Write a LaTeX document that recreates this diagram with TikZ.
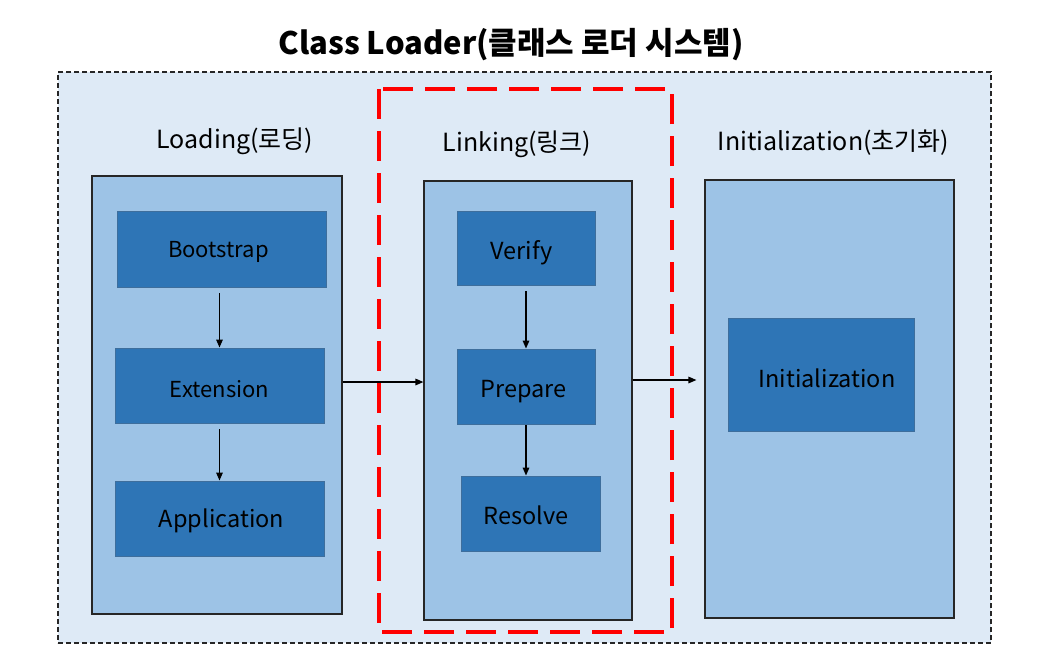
\documentclass[tikz,border=0pt]{standalone}
\usepackage{fontspec}
\setmainfont{Noto Sans CJK KR}
\usetikzlibrary{arrows.meta,calc}
\definecolor{bglight}{HTML}{DEEAF6}
\definecolor{midblue}{HTML}{9DC3E6}
\definecolor{darkblue}{HTML}{2E75B6}
\definecolor{darkborder}{HTML}{3E6E9C}
\definecolor{redline}{HTML}{FF0000}
\begin{document}
\begin{tikzpicture}[x=1pt,y=-1pt,
  outerbox/.style={draw=black!85,line width=1.5pt,dash pattern=on 5pt off 3pt,fill=bglight},
  redbox/.style={draw=redline,line width=3.3pt,dash pattern=on 30pt off 12pt},
  stagebox/.style={draw=black!85,line width=1.1pt,fill=midblue,inner sep=0pt},
  stepbox/.style={draw=darkborder,line width=0.9pt,fill=darkblue,inner sep=0pt},
  smalltxt/.style={font=\fontsize{22}{26}\selectfont},
  bigtxt/.style={font=\fontsize{23.5}{28}\selectfont},
  lbl/.style={font=\fontsize{25}{30}\selectfont},
  arr/.style={line width=1.4pt,-{Triangle[length=8pt,width=6.5pt]}}]
\useasboundingbox (0,0) rectangle (1053,665);
% outer
\node[outerbox,inner sep=0pt,minimum width=933pt,minimum height=571pt] (outer) at (524.5,357.5) {};
\node[font=\fontsize{31}{36}\selectfont\bfseries] (title) at (511,45) {Class Loader(클래스 로더 시스템)};
% red dashed
\draw[redbox] (379,89) rectangle (672,632);
\coordinate (redtl) at (379,89);
% stage labels
\node[lbl] (lload) at (235,141) {Loading(로딩)};
\node[lbl] (llink) at (517,144) {Linking(링크)};
\node[lbl] (linit) at (833.5,143) {Initialization(초기화)};
% stage boxes
\node[stagebox,minimum width=250pt,minimum height=438pt] (Loading) at (217,395) {};
\node[stagebox,minimum width=208pt,minimum height=439pt] (Linking) at (528,400.5) {};
\node[stagebox,minimum width=249pt,minimum height=438pt] (Init) at (829.5,399) {};
% steps
\node[stepbox,minimum width=209pt,minimum height=76pt,
  label={[smalltxt,xshift=-3pt,yshift=-3pt]center:Bootstrap}] (Boot) at (221.5,249) {};
\node[stepbox,minimum width=209pt,minimum height=75pt,
  label={[smalltxt,yshift=-4pt]center:Extension}] (Ext) at (219.5,385.5) {};
\node[stepbox,minimum width=209pt,minimum height=75pt,
  label={[bigtxt,xshift=2pt,yshift=-2pt]center:Application}] (App) at (219.5,518.5) {};
\node[stepbox,minimum width=138pt,minimum height=74pt,
  label={[bigtxt,xshift=-4.5pt,yshift=-5pt]center:Verify}] (Ver) at (526,248) {};
\node[stepbox,minimum width=138pt,minimum height=75pt,
  label={[bigtxt,xshift=-2.5pt,yshift=-5pt]center:Prepare}] (Prep) at (526,386.5) {};
\node[stepbox,minimum width=139pt,minimum height=75pt,
  label={[bigtxt,xshift=-4.5pt,yshift=-1.5pt]center:Resolve}] (Res) at (530.5,513.5) {};
\node[stepbox,minimum width=186pt,minimum height=113pt,
  label={[bigtxt,xshift=6pt,yshift=-4pt]center:Initialization}] (InitS) at (821,374.5) {};
% arrows
\draw[arr,shorten <=6pt] (Boot.south -| Ext.north) -- (Ext.north);
\draw[arr,shorten <=6pt] (Ext.south) -- (App.north);
\draw[arr,shorten <=6pt] (Ver.south) -- (Prep.north);
\draw[arr,shorten <=1pt] (Prep.south) -- (Prep.south |- Res.north);
\draw[arr] (Loading.east |- 0,382) -- (Linking.west |- 0,382);
\draw[arr,shorten >=8pt] (Linking.east |- 0,380) -- (Init.west |- 0,380);
\end{tikzpicture}
\end{document}
